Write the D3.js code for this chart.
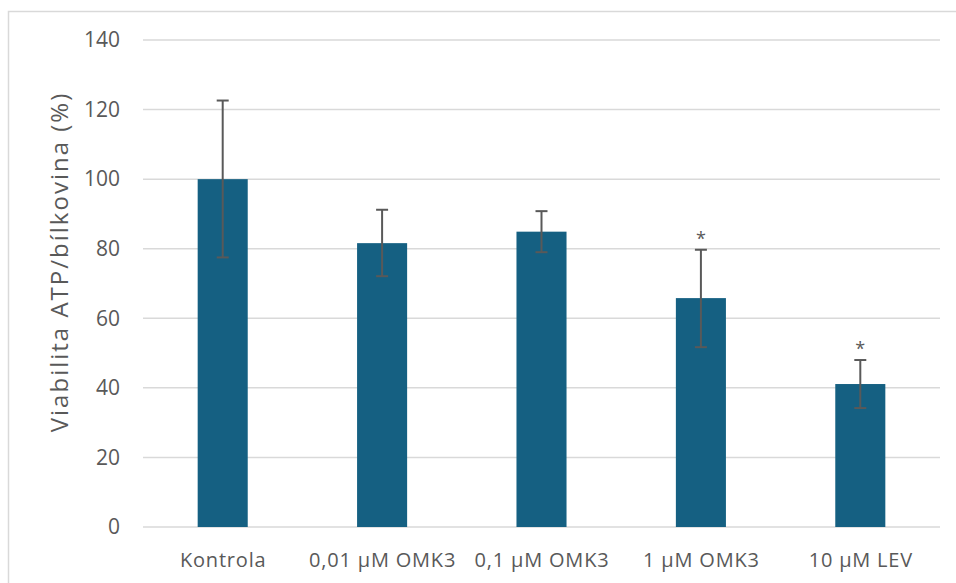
<!DOCTYPE html>
<html><head><meta charset="utf-8">
<script src="https://cdn.jsdelivr.net/npm/d3@7"></script>
<style>body{margin:0;background:#fff;} svg{display:block;font-family:"Open Sans","Noto Sans",sans-serif;}</style>
</head><body>
<script>
const categories = ["Kontrola", "0,01 µM OMK3", "0,1 µM OMK3", "1 µM OMK3", "10 µM LEV"];
const values = [100, 81.6, 84.9, 65.8, 41.1];
const errUpper = [122.6, 91.2, 90.8, 79.7, 48.0];
const errLower = [77.5, 72.1, 79.0, 51.7, 34.2];
const significant = [false, false, false, true, true];
const yTicks = [0, 20, 40, 60, 80, 100, 120, 140];
const yLabel = "Viabilita ATP/bílkovina (%)";

const W = 956, H = 583;
const m = {left: 143, right: 16, top: 40, bottom: 56};
const svg = d3.select("body").append("svg").attr("width", W).attr("height", H);

// frame
svg.append("rect").attr("x", 8.5).attr("y", 11.5).attr("width", W + 10).attr("height", H + 10)
  .attr("fill", "none").attr("stroke", "#d9d9d9").attr("stroke-width", 1.5);

const x = d3.scaleBand().domain(categories).range([m.left, W - m.right]).paddingInner(0.686).paddingOuter(0.343);
const y = d3.scaleLinear().domain([0, 140]).range([H - m.bottom, m.top]);

// gridlines
svg.append("g").selectAll("line").data(yTicks).join("line")
  .attr("x1", m.left).attr("x2", W - m.right)
  .attr("y1", d => y(d)).attr("y2", d => y(d))
  .attr("stroke", "#d9d9d9").attr("stroke-width", 1.5);

// y axis labels
const yAxis = d3.axisLeft(y).tickValues(yTicks).tickSize(0).tickPadding(23);
const gy = svg.append("g").attr("transform", `translate(${m.left},0)`).call(yAxis);
gy.select(".domain").remove();
gy.selectAll("text").attr("fill", "#595959").style("font-size", "21px").style("font-family", "'Open Sans',sans-serif");

// bars
svg.append("g").selectAll("rect").data(categories).join("rect")
  .attr("x", d => x(d)).attr("width", x.bandwidth())
  .attr("y", (d, i) => y(values[i])).attr("height", (d, i) => y(0) - y(values[i]))
  .attr("fill", "#156082");

// error bars
const eb = svg.append("g").attr("stroke", "#595959").attr("stroke-width", 2);
categories.forEach((c, i) => {
  const cx = x(c) + x.bandwidth() / 2;
  eb.append("line").attr("x1", cx).attr("x2", cx).attr("y1", y(errUpper[i])).attr("y2", y(errLower[i]));
  eb.append("line").attr("x1", cx - 6).attr("x2", cx + 6).attr("y1", y(errUpper[i])).attr("y2", y(errUpper[i]));
  eb.append("line").attr("x1", cx - 6).attr("x2", cx + 6).attr("y1", y(errLower[i])).attr("y2", y(errLower[i]));
  if (significant[i]) {
    svg.append("text").attr("x", cx).attr("y", y(errUpper[i]) - 5)
      .attr("text-anchor", "middle").attr("fill", "#595959").style("font-size", "18px").text("*");
  }
});

// x axis labels
const xAxis = d3.axisBottom(x).tickSize(0).tickPadding(26);
const gx = svg.append("g").attr("transform", `translate(0,${y(0)})`).call(xAxis);
gx.select(".domain").remove();
gx.selectAll("text").attr("fill", "#595959").attr("dx", 0.5)
  .style("font-size", "20px").style("letter-spacing", "0.8px").style("font-family", "'Open Sans',sans-serif");

// y label
svg.append("text").attr("transform", `translate(68,262) rotate(-90)`)
  .attr("text-anchor", "middle").attr("fill", "#595959")
  .style("font-size", "24px").style("letter-spacing", "2px").text(yLabel);
</script>
</body></html>
